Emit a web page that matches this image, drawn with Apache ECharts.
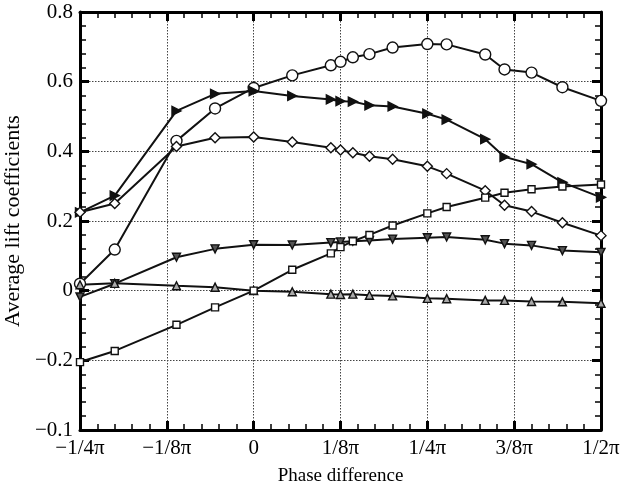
<!DOCTYPE html>
<html>
<head>
<meta charset="utf-8">
<script src="https://cdn.jsdelivr.net/npm/echarts@6/dist/echarts.min.js"></script>
<style>html,body{margin:0;padding:0;background:#fff}#c{width:620px;height:488px}</style>
</head>
<body>
<div id="c"></div>
<script>
// Phase difference in degrees (π = 180°)
const phase = [-45, -36, -20, -10, 0, 10, 20, 22.5, 25.7, 30, 36, 45, 50, 60, 65, 72, 80, 90];
const circleVals  = [0.02, 0.118, 0.43, 0.523, 0.582, 0.618, 0.647, 0.657, 0.670, 0.679, 0.698, 0.708, 0.707, 0.678, 0.635, 0.626, 0.584, 0.545];
const rightTriVals = [0.225, 0.273, 0.516, 0.565, 0.573, 0.559, 0.549, 0.544, 0.543, 0.532, 0.529, 0.508, 0.491, 0.435, 0.384, 0.363, 0.311, 0.268];
const diamondVals = [0.225, 0.25, 0.414, 0.439, 0.441, 0.427, 0.41, 0.404, 0.396, 0.386, 0.377, 0.357, 0.336, 0.287, 0.245, 0.227, 0.195, 0.158];
const downTriVals = [-0.018, 0.02, 0.096, 0.12, 0.132, 0.131, 0.138, 0.14, 0.142, 0.144, 0.148, 0.152, 0.154, 0.146, 0.135, 0.13, 0.115, 0.11];
const upTriVals   = [0.017, 0.021, 0.014, 0.01, 0.0, -0.003, -0.01, -0.011, -0.01, -0.013, -0.015, -0.022, -0.023, -0.028, -0.028, -0.031, -0.032, -0.036];
const squareVals  = [-0.205, -0.173, -0.098, -0.048, 0.0, 0.06, 0.107, 0.125, 0.142, 0.16, 0.187, 0.222, 0.24, 0.267, 0.281, 0.291, 0.299, 0.305];
const xTickLabels = ['\u22121/4\u03c0', '\u22121/8\u03c0', '0', '1/8\u03c0', '1/4\u03c0', '3/8\u03c0', '1/2\u03c0'];
const yTickLabels = ['\u22120.1', '\u22120.2', '0', '0.2', '0.4', '0.6', '0.8'];

const FONT = 'Liberation Serif';
const chart = echarts.init(document.getElementById('c'));
const pair = vals => phase.map((p, i) => [p, vals[i]]);

function mk(vals, symbol, size, rotate, fill) {
  return {
    type: 'line', data: pair(vals), symbol: symbol, symbolSize: size, symbolRotate: rotate,
    showAllSymbol: true, clip: false, animation: false, z: 5,
    lineStyle: {color: '#111', width: 2},
    itemStyle: {color: fill, borderColor: '#111', borderWidth: 1.4}
  };
}

function frameAxis(extra) {
  return Object.assign({
    type: 'value',
    axisLine: {show: true, onZero: false, lineStyle: {color: '#000', width: 3}},
    axisTick: {show: true, inside: true, length: 9, lineStyle: {color: '#000', width: 3}},
    minorTick: {show: true, splitNumber: 5, length: 6, lineStyle: {color: '#000', width: 1.5}},
    axisLabel: {show: false}, splitLine: {show: false}, minorSplitLine: {show: false}
  }, extra);
}
const gridLine = {show: true, lineStyle: {color: '#444', width: 1, type: [1.5, 1.5]}};

chart.setOption({
  animation: false,
  grid: {left: 80, right: 19, top: 12, bottom: 58, outerBoundsMode: 'none'},
  xAxis: [
    frameAxis({
      min: -45, max: 90, interval: 22.5, position: 'bottom',
      name: 'Phase difference', nameLocation: 'middle', nameGap: 37,
      nameTextStyle: {fontFamily: FONT, fontSize: 19, color: '#000'},
      axisLabel: {show: true, fontFamily: FONT, fontSize: 21, color: '#000', margin: 8,
        formatter: v => xTickLabels[Math.round((v + 45) / 22.5)]},
      splitLine: gridLine
    }),
    frameAxis({min: -45, max: 90, interval: 22.5, position: 'top'})
  ],
  yAxis: [
    frameAxis({
      min: -0.4, max: 0.8, interval: 0.2, position: 'left',
      name: 'Average lift coefficients', nameLocation: 'middle', nameGap: 39,
      nameTextStyle: {fontFamily: FONT, fontSize: 22, color: '#000'},
      axisLabel: {show: true, fontFamily: FONT, fontSize: 21, color: '#000', margin: 7,
        formatter: v => yTickLabels[Math.round((v + 0.4) / 0.2)]},
      splitLine: gridLine
    }),
    frameAxis({min: -0.4, max: 0.8, interval: 0.2, position: 'right'})
  ],
  series: [
    mk(circleVals, 'circle', 11, 0, '#fff'),
    mk(rightTriVals, 'triangle', 9, -90, '#111'),
    mk(diamondVals, 'diamond', 10, 0, '#fff'),
    mk(downTriVals, 'triangle', 8, 180, '#555'),
    mk(upTriVals, 'triangle', 8, 0, '#aaa'),
    mk(squareVals, 'rect', 7, 0, '#fff')
  ]
});
</script>
</body>
</html>
